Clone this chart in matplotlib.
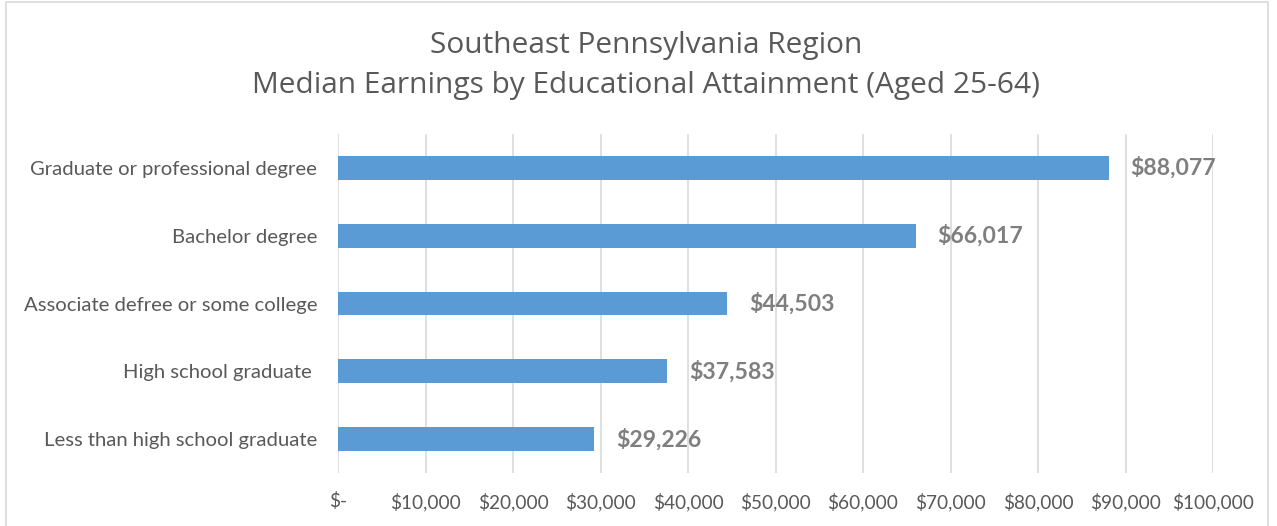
import matplotlib
matplotlib.use("Agg")
import matplotlib.pyplot as plt
from matplotlib.ticker import FuncFormatter
from matplotlib.patches import Rectangle

categories = [
    "Less than high school graduate",
    "High school graduate ",
    "Associate defree or some college",
    "Bachelor degree",
    "Graduate or professional degree",
]
earnings = [29226, 37583, 44503, 66017, 88077]
xticks = list(range(0, 100001, 10000))

TEXT = "#595959"
BAR = "#5B9BD5"
GRID = "#D9D9D9"
LABEL = "#7F7F7F"

W, H = 1277, 526
fig = plt.figure(figsize=(W / 100, H / 100), dpi=100)
fig.patch.set_facecolor("white")

# chart border
fig.add_artist(Rectangle((6 / W, -0.05), (1268 - 6) / W, 1.05 - 2 / H,
                         transform=fig.transFigure, fill=False,
                         edgecolor="#D9D9D9", linewidth=1.2))

ax = fig.add_axes([338 / W, 1 - 473 / H, (1213 - 338) / W, (473 - 134) / H])
y = list(range(len(categories)))
ax.barh(y, earnings, height=0.35, color=BAR, zorder=3)
ax.set_xlim(0, 100000)
ax.set_ylim(-0.5, len(categories) - 0.5)
ax.set_xticks(xticks)
ax.xaxis.set_major_formatter(FuncFormatter(lambda v, p: "$-" if v == 0 else f"${v:,.0f}"))
ax.set_yticks(y)
ax.set_yticklabels(categories)
ax.tick_params(axis="x", length=0, pad=14, labelsize=13.7, labelcolor=TEXT)
ax.tick_params(axis="y", length=0, pad=15, labelsize=14.6, labelcolor=TEXT)
for lab in ax.get_xticklabels() + ax.get_yticklabels():
    lab.set_family("Lato")
ax.grid(axis="x", color=GRID, linewidth=1.2, zorder=0)
for s in ax.spines.values():
    s.set_visible(False)

for yi, v in zip(y, earnings):
    ax.annotate(f"${v:,.0f}", (v, yi), xytext=(22, 0), textcoords="offset pixels",
                ha="left", va="center", fontsize=16.6, fontweight="bold",
                color=LABEL, family="Lato")

fig.text(646 / W, 1 - 45 / H, "Southeast Pennsylvania Region", ha="center", va="center",
         fontsize=21.5, color=TEXT, family="Open Sans")
fig.text(646 / W, 1 - 85 / H, "Median Earnings by Educational Attainment (Aged 25-64)",
         ha="center", va="center", fontsize=21.5, color=TEXT, family="Open Sans")

fig.savefig("out.png", dpi=100, facecolor="white")
